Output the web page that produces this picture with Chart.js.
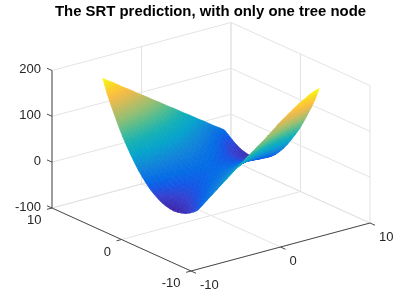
<!DOCTYPE html>
<html><head><meta charset="utf-8">
<style>html,body{margin:0;padding:0;background:#fff}canvas{display:block}</style>
<script src="https://cdn.jsdelivr.net/npm/chart.js@4"></script>
</head><body><canvas id="c" width="407" height="305"></canvas>
<script>
const titleText = "The SRT prediction, with only one tree node";
const xNodes = [-6.8,-6.23,-5.67,-5.1,-4.53,-3.97,-3.4,-2.83,-2.27,-1.7,-1.13,-.57,0,.57,1.13,1.7,2.27,2.83,3.4,3.97,4.53,5.1,5.67,6.23,6.8];
const yNodes = [-6.8,-6.23,-5.67,-5.1,-4.53,-3.97,-3.4,-2.83,-2.27,-1.7,-1.13,-.57,0,.57,1.13,1.7,2.27,2.83,3.4,3.97,4.53,5.1,5.67,6.23,6.8];
// surface heights, one row per y node
const zRow0  = [-7,2,11,20,29,38,47,56,65,73,82,90,99,107,116,125,135,143,151,159,167,173,180,185,188];
const zRow1  = [-14,-6,2,11,19,27,36,44,52,60,68,76,83,90,97,104,111,117,123,130,136,142,149,155,161];
const zRow2  = [-20,-13,-5,3,10,18,26,33,41,48,55,62,70,76,82,88,94,100,105,111,117,122,128,134,139];
const zRow3  = [-25,-18,-11,-4,3,10,17,24,31,37,44,50,57,62,68,73,79,84,89,94,99,104,109,114,119];
const zRow4  = [-28,-22,-16,-9,-3,3,10,16,22,28,34,40,46,50,55,60,65,69,73,78,82,86,91,95,99];
const zRow5  = [-30,-25,-19,-13,-8,-2,4,9,15,20,25,30,36,40,44,48,52,56,60,63,67,70,74,78,81];
const zRow6  = [-31,-26,-21,-16,-11,-6,-1,4,9,13,18,22,27,30,34,37,41,44,47,50,53,56,59,62,65];
const zRow7  = [-30,-26,-22,-17,-13,-9,-4,0,4,8,12,16,20,22,25,28,31,33,36,38,40,43,45,47,50];
const zRow8  = [-28,-25,-21,-17,-14,-10,-6,-3,1,4,7,10,14,16,18,20,22,24,26,27,29,31,32,34,36];
const zRow9  = [-25,-22,-19,-16,-13,-10,-7,-4,-1,2,4,7,9,11,12,14,15,16,17,18,19,20,21,22,23];
const zRow10 = [-20,-18,-16,-13,-11,-9,-6,-4,-2,0,2,4,6,7,7,8,9,9,10,10,10,11,11,11,12];
const zRow11 = [-14,-13,-11,-9,-8,-6,-4,-3,-1,0,1,3,4,4,4,4,4,4,4,3,3,3,2,2,2];
const zRow12 = [-7,-6,-5,-4,-3,-2,-1,0,1,2,2,3,3,3,2,2,1,0,-1,-2,-3,-4,-5,-6,-6];
const zRow13 = [2,2,2,3,3,3,4,4,4,4,4,4,4,3,1,0,-1,-3,-4,-6,-8,-9,-11,-10,-10];
const zRow14 = [12,11,11,11,10,10,10,9,9,8,7,7,6,4,2,0,-2,-4,-6,-9,-11,-13,-16,-15,-16];
const zRow15 = [23,22,21,20,19,18,17,16,15,14,12,11,9,7,4,2,-1,-4,-7,-10,-13,-16,-19,-19,-20];
const zRow16 = [36,34,32,31,29,27,26,24,22,20,18,16,14,10,7,4,1,-3,-6,-10,-14,-17,-21,-22,-23];
const zRow17 = [50,47,45,43,40,38,36,33,31,28,25,22,20,16,12,8,4,0,-4,-9,-13,-17,-22,-23,-26];
const zRow18 = [65,62,59,56,53,50,47,44,41,37,34,30,27,22,18,14,9,4,-1,-6,-11,-16,-21,-23,-26];
const zRow19 = [81,78,74,70,67,63,60,56,52,48,44,40,36,30,25,20,15,9,4,-2,-8,-13,-19,-22,-24];
const zRow20 = [99,95,91,86,82,78,73,69,65,60,55,50,46,40,34,28,22,16,10,3,-3,-9,-16,-19,-21];
const zRow21 = [119,114,109,104,99,94,89,84,79,73,68,62,57,50,44,37,31,24,17,10,3,-4,-11,-15,-16];
const zRow22 = [139,134,128,122,117,111,105,100,94,88,82,76,70,62,55,48,41,33,26,18,10,3,-5,-10,-10];
const zRow23 = [161,155,149,142,136,130,123,117,111,104,97,90,83,76,68,60,52,44,36,27,19,11,2,-3,-3];
const zRow24 = [188,180,173,165,157,150,142,134,127,119,111,104,96,88,81,73,65,58,50,42,35,27,19,12,4];
const zRows = [zRow0,zRow1,zRow2,zRow3,zRow4,zRow5,zRow6,zRow7,zRow8,zRow9,zRow10,zRow11,zRow12,zRow13,zRow14,zRow15,zRow16,zRow17,zRow18,zRow19,zRow20,zRow21,zRow22,zRow23,zRow24];
const xTicks = [-10,0,10], yTicks = [-10,0,10], zTicks = [-100,0,100,200];
const parulaAt = [0,4,7,10,16,22,28,34,40,46,52,55,58,63];
const parulaRGB = [[.2422,.1504,.6603],[.21,.26,.82],[.08,.34,.90],[.02,.42,.90],[.07,.52,.85],[.0239,.6387,.8038],[.0843,.6928,.7062],[.3022,.7376,.5712],[.5709,.7485,.4494],[.7858,.7356,.3633],[.9739,.7314,.2666],[.9955,.7861,.1967],[.9697,.8481,.1475],[.9763,.9831,.0538]];

// camera of the 3-D box (az -37.5, el 30)
const view = {ox:211, oy:215.5, xx:8.95, xy:-6.95, yx:2.4, yy:3.15, zs:.4583};
function project(x,y,z){
  return {x:view.ox+view.xx*x+view.xy*y, y:view.oy-view.yx*x-view.yy*y-view.zs*(z+100)};
}
function depth(x,y,z){ return -.527*x/20-.687*y/20+.5*.705*z/300; }

const allZ = zRows.flat(), zLo = Math.min(...allZ), zHi = Math.max(...allZ);
function colorOf(z){
  const t = Math.max(0,Math.min(1,(z-zLo)/(zHi-zLo)))*63;
  let k=0; while(k<parulaAt.length-2 && t>parulaAt[k+1]) k++;
  const f=(t-parulaAt[k])/(parulaAt[k+1]-parulaAt[k]);
  const c=parulaRGB[k].map((v,n)=>Math.round(255*(v+(parulaRGB[k+1][n]-v)*f)));
  return `rgb(${c[0]},${c[1]},${c[2]})`;
}
function quadPaint(q){
  return function(ctx){
    const sx=ctx.chart.scales.x, sy=ctx.chart.scales.y;
    const P=q.map(p=>{const s=project(p[0],p[1],p[2]);return [sx.getPixelForValue(s.x),sy.getPixelForValue(s.y),p[2]];});
    const zs=P.map(p=>p[2]); const lo=Math.min(...zs), hi=Math.max(...zs);
    const mid=(lo+hi)/2;
    if(hi-lo<1) return colorOf(mid);
    const ux=(P[1][0]+P[2][0]-P[0][0]-P[3][0])/2, uy=(P[1][1]+P[2][1]-P[0][1]-P[3][1])/2, uz=(P[1][2]+P[2][2]-P[0][2]-P[3][2])/2;
    const vx=(P[3][0]+P[2][0]-P[0][0]-P[1][0])/2, vy=(P[3][1]+P[2][1]-P[0][1]-P[1][1])/2, vz=(P[3][2]+P[2][2]-P[0][2]-P[1][2])/2;
    const det=ux*vy-uy*vx;
    if(!isFinite(det)||Math.abs(det)<2) return colorOf(mid);
    const a=(uz*vy-uy*vz)/det, b=(ux*vz-uz*vx)/det, n=a*a+b*b;
    if(!(n>1e-6)) return colorOf(mid);
    const cx=(P[0][0]+P[1][0]+P[2][0]+P[3][0])/4, cy=(P[0][1]+P[1][1]+P[2][1]+P[3][1])/4;
    const cz=(P[0][2]+P[1][2]+P[2][2]+P[3][2])/4;
    const g=ctx.chart.ctx.createLinearGradient(cx+a*(lo-cz)/n,cy+b*(lo-cz)/n,cx+a*(hi-cz)/n,cy+b*(hi-cz)/n);
    for(let s=0;s<=3;s++) g.addColorStop(s/3,colorOf(lo+(hi-lo)*s/3));
    return g;
  };
}
// surface quads, nearest first (Chart.js paints the first dataset last)
const quads=[];
for(let j=0;j<yNodes.length-1;j++) for(let i=0;i<xNodes.length-1;i++){
  const q=[[xNodes[i],yNodes[j],zRows[j][i]],[xNodes[i+1],yNodes[j],zRows[j][i+1]],[xNodes[i+1],yNodes[j+1],zRows[j+1][i+1]],[xNodes[i],yNodes[j+1],zRows[j+1][i]]];
  const d=q.reduce((s,p)=>s+depth(p[0],p[1],p[2]),0)/4;
  quads.push({q,d});
}
quads.sort((a,b)=>b.d-a.d);
const datasets=quads.map(({q})=>{
  const paint=quadPaint(q);
  return {type:'scatter',showLine:true,fill:'shape',pointRadius:0,borderWidth:.8,tension:0,clip:false,
    backgroundColor:paint,borderColor:paint,
    data:[...q,q[0]].map(p=>project(p[0],p[1],p[2]))};
});
function seg(a,b,color,w){
  datasets.push({type:'scatter',showLine:true,fill:false,pointRadius:0,borderWidth:w,borderColor:color,clip:false,
    data:[project(a[0],a[1],a[2]),project(b[0],b[1],b[2])]});
}
const AX='#4a4a4a', GR='#e3e3e3';
const zMin=zTicks[0], zMax=zTicks[zTicks.length-1];
// axes
seg([-10,10,zMin],[-10,10,zMax],AX,1);
seg([-10,10,zMin],[-10,-10,zMin],AX,1);
seg([-10,-10,zMin],[10,-10,zMin],AX,1);
zTicks.forEach(z=>seg([-10,10,z],[-10,10.72,z],AX,1));
yTicks.forEach(y=>seg([-10,y,zMin],[-10.55,y,zMin],AX,1));
xTicks.forEach(x=>seg([x,-10,zMin],[x,-10.72,zMin],AX,1));
// grid on the walls and the floor
zTicks.forEach(z=>{ seg([-10,10,z],[10,10,z],GR,1); seg([10,10,z],[10,-10,z],GR,1); });
xTicks.forEach(x=>{ seg([x,10,zMin],[x,10,zMax],GR,1); seg([x,10,zMin],[x,-10,zMin],GR,1); });
yTicks.forEach(y=>{ seg([10,y,zMin],[10,y,zMax],GR,1); seg([-10,y,zMin],[10,y,zMin],GR,1); });

const tickText={id:'tickText',afterDraw(chart){
  const c=chart.ctx, sx=chart.scales.x, sy=chart.scales.y;
  c.save(); c.fillStyle='#262626'; c.font='13px "Liberation Sans"'; c.textBaseline='middle';
  const at=(p)=>[sx.getPixelForValue(p.x),sy.getPixelForValue(p.y)];
  c.textAlign='right';
  zTicks.forEach(z=>{const a=at(project(-10,10,z)); c.fillText(String(z),a[0]-11,a[1]-1);});
  yTicks.forEach(y=>{const a=at(project(-10,y,zMin)); c.fillText(String(y),a[0]-10.5,a[1]+12.5);});
  c.textAlign='left';
  xTicks.forEach(x=>{const a=at(project(x,-10,zMin)); c.fillText(String(x),a[0]+9,a[1]+14);});
  c.restore();
}};

const titleTop=3,titleBottom=2,titleSize=14.9;
const areaTop=titleTop+titleBottom+titleSize*1.2;
new Chart(document.getElementById('c'),{
  type:'scatter',
  data:{datasets},
  options:{
    responsive:false,animation:false,events:[],
    layout:{padding:{left:14}},
    scales:{
      x:{type:'linear',display:false,min:14,max:407},
      y:{type:'linear',display:false,reverse:true,min:areaTop,max:305}
    },
    plugins:{
      legend:{display:false},tooltip:{enabled:false},
      filler:{drawTime:'beforeDatasetDraw'},
      title:{display:true,text:titleText,color:'#000',
        font:{family:'"Liberation Sans"',size:titleSize,weight:'bold'},
        padding:{top:titleTop,bottom:titleBottom}}
    }
  },
  plugins:[tickText]
});
</script></body></html>
